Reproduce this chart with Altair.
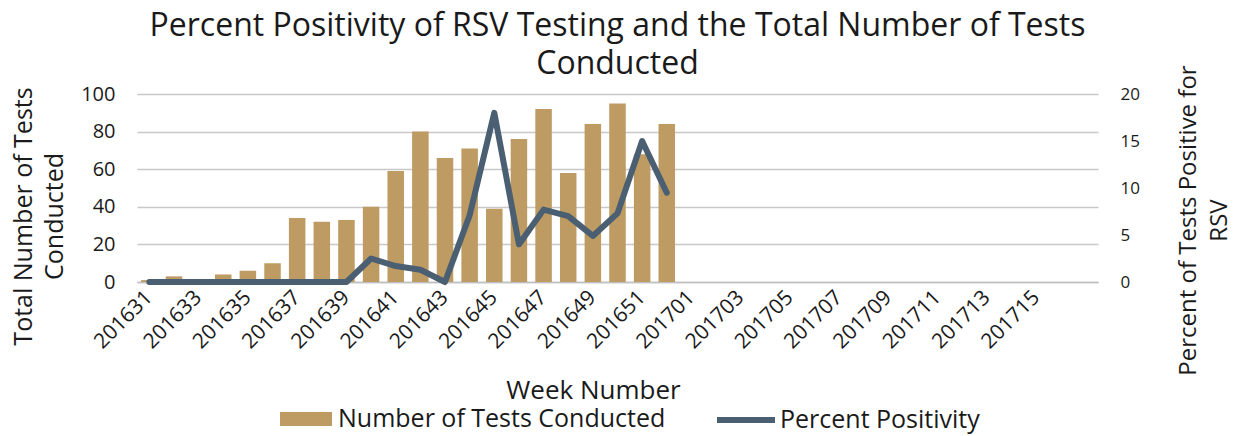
import altair as alt
import pandas as pd

weeks = ["201631", "201632", "201633", "201634", "201635", "201636", "201637",
         "201638", "201639", "201640", "201641", "201642", "201643", "201644",
         "201645", "201646", "201647", "201648", "201649", "201650", "201651",
         "201652", "201701", "201702", "201703", "201704", "201705", "201706",
         "201707", "201708", "201709", "201710", "201711", "201712", "201713",
         "201714", "201715", "201716", "201717"]
tick_labels = ["201631", "201633", "201635", "201637", "201639", "201641",
               "201643", "201645", "201647", "201649", "201651", "201701",
               "201703", "201705", "201707", "201709", "201711", "201713",
               "201715"]
tests = [1, 3, 0, 4, 6, 10, 34, 32, 33, 40, 59, 80, 66, 71, 39, 76, 92, 58,
         84, 95, 68, 84]
positivity = [0, 0, 0, 0, 0, 0, 0, 0, 0, 2.5, 1.7, 1.3, 0, 7.1, 18.0, 4.0,
              7.7, 7.0, 4.9, 7.3, 15.0, 9.5]

BAR_NAME = "Number of Tests Conducted"
LINE_NAME = "Percent Positivity"
TAN = "#BE9B62"
SLATE = "#4B5F72"
FONT = "Open Sans"
TXT = "#1a1a1a"

df = pd.DataFrame({
    "week": weeks[:len(tests)],
    "tests": tests,
    "positivity": positivity,
    "bar_series": BAR_NAME,
    "line_series": LINE_NAME,
})

x_enc = alt.X(
    "week:N",
    scale=alt.Scale(domain=weeks, paddingInner=0.33, paddingOuter=0.165),
    axis=alt.Axis(
        values=tick_labels, labelAngle=-45, labelAlign="right",
        labelBaseline="middle", labelFontSize=21, labelColor=TXT,
        labelFont=FONT, labelPadding=12, ticks=False,
        domainColor="#bfbfbf", domainWidth=1.5,
        title="Week Number", titleFontSize=26, titleFontWeight="normal",
        titleColor=TXT, titleFont=FONT, titleX=456, titleY=116,
        titleBaseline="alphabetic", titleAnchor="start", titleAlign="center",
    ),
)

bars = alt.Chart(df).mark_bar().encode(
    x=x_enc,
    y=alt.Y(
        "tests:Q",
        scale=alt.Scale(domain=[0, 100], nice=False),
        axis=alt.Axis(
            values=[0, 20, 40, 60, 80, 100], orient="left", grid=True,
            gridColor="#c8c8c8", gridWidth=1.5, domain=False, ticks=False,
            labelFontSize=20, labelColor=TXT, labelFont=FONT, labelPadding=22,
            title=["Total Number of Tests", "Conducted"], titleFontSize=25,
            titleFontWeight="normal", titleColor=TXT, titleFont=FONT,
            titlePadding=13, titleY=122, titleLineHeight=31,
        ),
    ),
    fill=alt.Fill(
        "bar_series:N",
        scale=alt.Scale(domain=[BAR_NAME], range=[TAN]),
        legend=alt.Legend(
            title=None, orient="none", legendX=143, legendY=299,
            symbolType="M-1,-0.27H1V0.27H-1Z", symbolSize=2704,
            symbolStrokeWidth=0, labelFontSize=25, labelFont=FONT,
            labelColor=TXT, labelOffset=6, labelLimit=0, padding=0,
        ),
    ),
)

line = alt.Chart(df).mark_line(strokeWidth=6, strokeCap="round",
                               strokeJoin="round").encode(
    x=alt.X("week:N", scale=alt.Scale(domain=weeks)),
    y=alt.Y(
        "positivity:Q",
        scale=alt.Scale(domain=[0, 20], nice=False),
        axis=alt.Axis(
            values=[0, 5, 10, 15, 20], orient="right", grid=False,
            domain=False, ticks=False, labelFontSize=17, labelColor=TXT,
            labelFont=FONT, labelPadding=22,
            title=["Percent of Tests Positive for", "RSV"], titleFontSize=24,
            titleFontWeight="normal", titleColor=TXT, titleFont=FONT,
            titleAngle=270, titlePadding=30, titleY=126, titleLineHeight=31,
        ),
    ),
    stroke=alt.Stroke(
        "line_series:N",
        scale=alt.Scale(domain=[LINE_NAME], range=[SLATE]),
        legend=alt.Legend(
            title=None, orient="none", legendX=577, legendY=294,
            symbolType="stroke", symbolSize=3364, symbolStrokeWidth=6,
            labelFontSize=25, labelFont=FONT, labelColor=TXT,
            labelOffset=2, labelLimit=0, padding=0,
        ),
    ),
)

chart = alt.layer(bars, line).resolve_scale(
    y="independent"
).properties(
    width=961,
    height=188,
    autosize=alt.AutoSizeParams(type="none"),
    padding={"left": 129, "top": 86, "right": 134, "bottom": 154},
    title=alt.Title(
        ["Percent Positivity of RSV Testing and the Total Number of Tests",
         "Conducted"],
        fontSize=32, font=FONT, fontWeight="normal", color=TXT,
        anchor="middle", offset=20, dy=36, lineHeight=38,
    ),
).configure_view(stroke=None)

chart.save("out.html", embed_options={"renderer": "svg", "actions": False})
